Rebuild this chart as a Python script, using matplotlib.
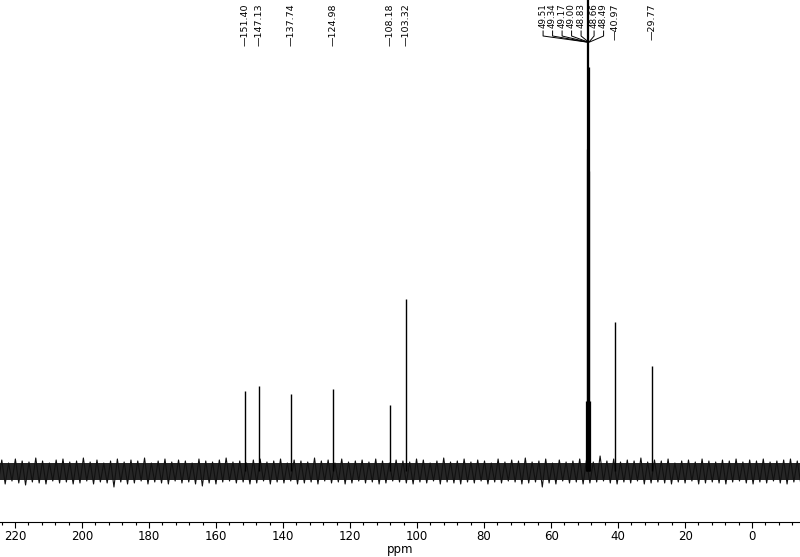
import numpy as np
import matplotlib
matplotlib.use("Agg")
import matplotlib.pyplot as plt
import matplotlib.transforms as mtransforms

# peak shifts (ppm) and heights above baseline (arbitrary units)
peak_ppm = [151.40, 147.13, 137.74, 124.98, 108.18, 103.32, 40.97, 29.77]
peak_height = [80, 85, 77, 82, 66, 172, 149, 105]

# CD3OD solvent septet
solv_ppm = [49.51, 49.34, 49.17, 49.00, 48.83, 48.66, 48.49]
solv_height = [70, 322, 560, 700, 404, 300, 70]

# baseline noise: alternating highs / lows
noise_hi = [9, 11, 8, 12, 10, 9, 13, 10, 8, 11,
            12, 9, 10, 13, 9, 11, 8, 10, 12, 9,
            11, 10, 13, 8, 10, 12, 9, 11, 10, 8,
            12, 10, 9, 11, 13, 9, 10, 8, 11, 12,
            9, 10, 12, 8, 11, 10, 9, 13, 10, 11,
            8, 12, 9, 10, 11, 9, 12, 10, 8, 11,
            10, 9, 12, 11, 8, 10, 13, 9, 10, 12,
            9, 11, 10, 8, 12, 9, 11, 10, 13, 9,
            10, 12, 8, 11, 9, 10, 12, 11, 9, 15,
            10, 12, 9, 11, 10, 13, 9, 11, 10, 12,
            8, 10, 11, 9, 12, 10, 9, 11, 10, 12,
            9, 11, 10, 12, 9, 10, 11, 12, 10]
noise_lo = [-11, -13, -10, -12, -14, -11, -12, -13, -10, -12,
            -11, -13, -12, -10, -13, -11, -12, -16, -11, -13,
            -12, -10, -13, -11, -12, -13, -10, -12, -11, -13,
            -15, -12, -13, -11, -10, -12, -11, -13, -12, -10,
            -13, -11, -12, -10, -13, -12, -11, -13, -10, -12,
            -11, -13, -12, -10, -12, -11, -13, -12, -10, -11,
            -12, -13, -11, -12, -10, -13, -11, -12, -13, -11,
            -12, -10, -13, -11, -12, -10, -11, -13, -12, -11,
            -16, -12, -13, -10, -12, -11, -13, -12, -11, -10,
            -12, -13, -11, -12, -10, -13, -12, -11, -12, -13,
            -11, -12, -10, -13, -12, -11, -12, -13, -11, -10,
            -12, -13, -11, -12, -10, -12, -13, -11, -12]

noise_y = np.ravel(np.column_stack([noise_hi, noise_lo]))
noise_x = np.linspace(226, -14.5, len(noise_y))

fig = plt.figure(figsize=(8, 5.57), dpi=100)
ax = fig.add_axes([0, 35 / 557, 1, 522 / 557])

ax.fill_between(noise_x, -9, 8, color='#262626', lw=0)
ax.plot(noise_x, noise_y, color='#111111', lw=0.8)
ax.vlines(peak_ppm, 0, peak_height, color='black', lw=1.0)
ax.vlines(solv_ppm, 0, solv_height, color='black', lw=0.9)

ax.set_xlim(224.5, -14.3)
ax.set_ylim(-51, 471)

for s in ['top', 'left', 'right']:
    ax.spines[s].set_visible(False)
ax.spines['bottom'].set_linewidth(0.8)
ax.set_yticks([])
ax.set_xticks(np.arange(220, -1, -20))
ax.set_xticks(np.arange(224, -13, -4), minor=True)
ax.tick_params(axis='x', which='major', length=4, width=0.8, labelsize=8.5, pad=1.5)
ax.tick_params(axis='x', which='minor', length=2, width=0.8)
ax.set_xlabel('ppm', fontsize=8.5, labelpad=0)

# peak labels along the top
trans = mtransforms.blended_transform_factory(ax.transData, ax.transAxes)
def fy(py):
    return 1 - py / 522

for p in peak_ppm:
    ax.text(p, fy(3), '\u2014%.2f' % p, rotation=90, ha='center', va='top',
            fontsize=6.8, transform=trans)

# solvent labels spread out and joined to the peaks
label_px = [543, 552.5, 562, 571.5, 581, 594, 603.5]
for p, lx in zip(solv_ppm, label_px):
    lp = (752 - lx) / 3.35
    ax.text(lp, fy(3), '%.2f' % p, rotation=90, ha='center', va='top',
            fontsize=6.3, transform=trans)
    ax.plot([lp, lp, p], [fy(31), fy(36), fy(42)], color='black', lw=0.7,
            transform=trans, clip_on=False)

fig.savefig('out.png', dpi=100)
